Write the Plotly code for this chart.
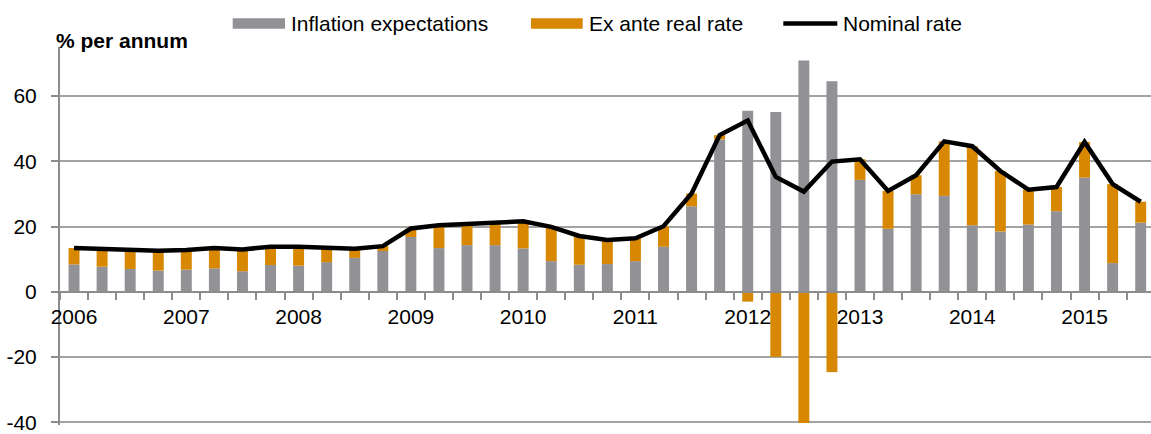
import plotly.graph_objects as go

# Quarterly observations, 2006 Q1 - 2015 Q3 (% per annum)
quarters = [f"{y}Q{q}" for y in range(2006, 2016) for q in range(1, 5)][:39]
year_labels = ["2006", "2007", "2008", "2009", "2010", "2011", "2012", "2013", "2014", "2015"]
y_tick_values = [-40, -20, 0, 20, 40, 60]
y_tick_labels = ["-40", "-20", "0", "20", "40", "60"]

inflation_expectations = [
    8.4, 7.7, 7.0, 6.5, 6.8, 7.2, 6.3, 8.2, 8.0, 9.1, 10.4, 12.5,
    16.8, 13.4, 14.3, 14.3, 13.3, 9.4, 8.3, 8.5, 9.4, 13.8, 26.2, 46.7,
    55.5, 55.1, 70.9, 64.5, 34.3, 19.3, 29.9, 29.4, 20.4, 18.5, 20.6, 24.7,
    35.0, 8.8, 21.2,
]
ex_ante_real_rate = [
    5.0, 5.4, 5.9, 6.1, 6.0, 6.2, 6.7, 5.6, 5.8, 4.5, 2.8, 1.5,
    2.6, 7.0, 6.5, 7.0, 8.3, 10.5, 8.8, 7.4, 7.0, 6.3, 3.9, 1.3,
    -3.0, -19.9, -40.2, -24.6, 6.3, 11.6, 5.8, 16.7, 24.2, 18.5, 10.7, 7.4,
    10.9, 24.2, 6.4,
]
nominal_rate = [
    13.4, 13.1, 12.9, 12.6, 12.8, 13.4, 13.0, 13.8, 13.8, 13.6, 13.2, 14.0,
    19.4, 20.4, 20.8, 21.3, 21.6, 19.9, 17.1, 15.9, 16.4, 20.1, 30.1, 48.0,
    52.5, 35.2, 30.7, 39.9, 40.6, 30.9, 35.7, 46.1, 44.6, 37.0, 31.3, 32.1,
    45.9, 33.0, 27.6,
]

GRAY = "#929296"
ORANGE = "#D78700"
AXIS_GRAY = "#8C8C8C"
GRID_GRAY = "#A3A3A3"
FONT = "Arial, Liberation Sans, sans-serif"

W, H = 1151, 434
M_L, M_R, M_T, M_B = 60, 0, 47, 6
PLOT_W = W - M_L - M_R
PLOT_H = H - M_T - M_B
Y_MIN, Y_MAX = -40.8, 75


def px_x(px):
    return (px - M_L) / PLOT_W


def px_y(py):
    return (H - M_B - py) / PLOT_H


x = list(range(len(quarters)))

fig = go.Figure()
fig.add_trace(go.Bar(
    x=x, y=inflation_expectations, name="Inflation expectations",
    marker=dict(color=GRAY, line=dict(width=0)), showlegend=False,
    customdata=quarters, hovertemplate="%{customdata}: %{y}<extra></extra>",
))
fig.add_trace(go.Bar(
    x=x, y=ex_ante_real_rate, name="Ex ante real rate",
    marker=dict(color=ORANGE, line=dict(width=0)), showlegend=False,
    customdata=quarters, hovertemplate="%{customdata}: %{y}<extra></extra>",
))
fig.add_trace(go.Scatter(
    x=x, y=nominal_rate, name="Nominal rate", mode="lines",
    line=dict(color="black", width=4.5), showlegend=False,
    customdata=quarters, hovertemplate="%{customdata}: %{y}<extra></extra>",
))

cat_w = 28.07
x_max = -0.5 + PLOT_W / cat_w
boundaries = [i - 0.5 for i in range(len(quarters) + 1)]

fig.update_layout(
    width=W, height=H,
    margin=dict(l=M_L, r=M_R, t=M_T, b=M_B, pad=0),
    paper_bgcolor="white", plot_bgcolor="white",
    barmode="relative", bargap=0.61,
    font=dict(family=FONT, size=21, color="black"),
    showlegend=False,
    xaxis=dict(
        range=[-0.5, x_max],
        anchor="free", position=(0 - Y_MIN) / (Y_MAX - Y_MIN),
        showline=True, linecolor=AXIS_GRAY, linewidth=2,
        showgrid=False, zeroline=False,
        tickmode="array", tickvals=list(range(0, 40, 4)), ticktext=year_labels,
        ticks="", ticklabelstandoff=6,
        minor=dict(tickmode="array", tickvals=boundaries, ticks="outside",
                   ticklen=7, tickwidth=1.5, tickcolor=AXIS_GRAY, showgrid=False),
        tickfont=dict(family=FONT, size=21, color="black"),
    ),
    yaxis=dict(
        range=[Y_MIN, Y_MAX],
        tickmode="array", tickvals=y_tick_values, ticktext=y_tick_labels,
        ticks="outside", ticklen=7, tickwidth=1.5, tickcolor=AXIS_GRAY,
        ticklabelstandoff=10, ticklabeloverflow="allow",
        showline=True, linecolor=AXIS_GRAY, linewidth=2,
        showgrid=True, gridcolor=GRID_GRAY, gridwidth=1.5,
        zeroline=False,
        tickfont=dict(family=FONT, size=21, color="black"),
    ),
)

# Axis title above the plot
fig.add_annotation(
    text="<b>% per annum</b>", xref="paper", yref="paper",
    x=px_x(54), y=px_y(40), xanchor="left", yanchor="middle",
    showarrow=False, font=dict(family=FONT, size=21, color="black"),
)

# Legend row
legend_y = 23.3
legend_items = [
    ("bar", GRAY, 232.7, 285.0, 289.0, "Inflation expectations"),
    ("bar", ORANGE, 531.0, 582.7, 587.3, "Ex ante real rate"),
    ("line", "black", 783.3, 837.3, 840.7, "Nominal rate"),
]
for kind, color, x0, x1, tx, label in legend_items:
    if kind == "bar":
        fig.add_shape(type="rect", xref="paper", yref="paper",
                      x0=px_x(x0), x1=px_x(x1), y0=px_y(legend_y + 5.3), y1=px_y(legend_y - 5.3),
                      fillcolor=color, line=dict(width=0))
    else:
        fig.add_shape(type="line", xref="paper", yref="paper",
                      x0=px_x(x0), x1=px_x(x1), y0=px_y(legend_y), y1=px_y(legend_y),
                      line=dict(color=color, width=4.7))
    fig.add_annotation(
        text=label, xref="paper", yref="paper", x=px_x(tx), y=px_y(legend_y),
        xanchor="left", yanchor="middle", showarrow=False,
        font=dict(family=FONT, size=21, color="black"),
    )

fig.write_html("out.html")
